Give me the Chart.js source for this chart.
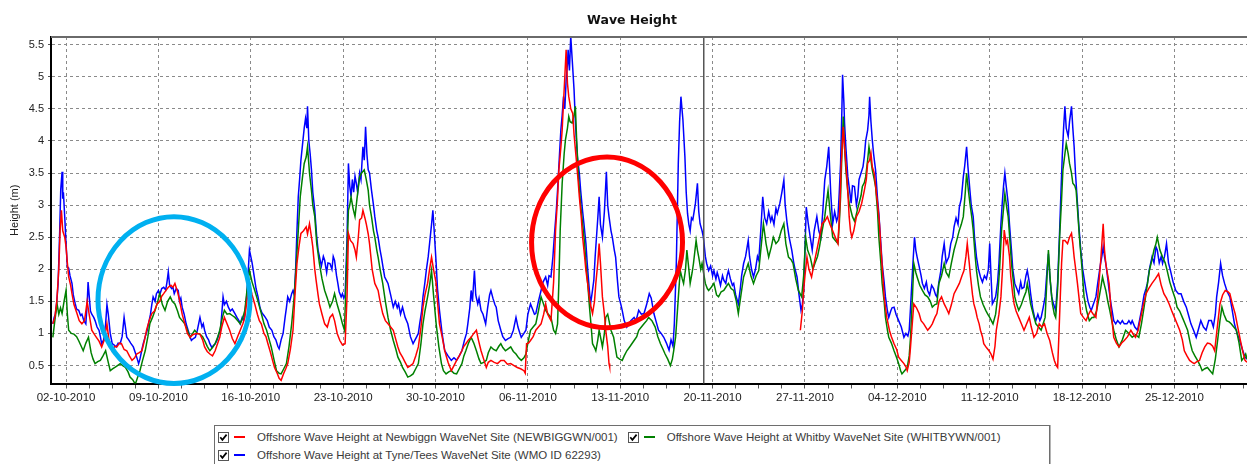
<!DOCTYPE html>
<html>
<head>
<meta charset="utf-8">
<title>Wave Height</title>
<script src="https://cdn.jsdelivr.net/npm/chart.js@4.4.1/dist/chart.umd.min.js"></script>
<style>
  html, body { margin: 0; padding: 0; background: #fff; }
  #wrap { position: relative; width: 1247px; height: 464px; overflow: hidden; }
  #plot { position: absolute; left: 0; top: 0; width: 1247px; height: 420px; }
  #legend {
    position: absolute; left: 214px; top: 425px; width: 834px; height: 50px;
    border: 1px solid #6e6e6e; box-shadow: 1px 0 0 #b4b4b4; background: #fff;
    font: 11.5px "Liberation Sans", Arial, sans-serif; color: #3a3a3a;
  }
  .row { position: absolute; left: 3px; height: 14px; display: flex; align-items: center; white-space: nowrap; }
  .item { display: flex; align-items: center; margin-right: 10px; }
  .item svg { flex: none; margin-right: 5px; }
  .swatch { flex: none; width: 11px; height: 2px; margin-right: 12px; }
</style>
</head>
<body>
<div id="wrap">
  <div id="plot"><canvas id="waves"></canvas></div>
  <div id="legend"></div>
</div>
<script>
// days are counted from 02-10-2010 00:00, heights in metres
var chartTitle = 'Wave Height';
var axisTitle = 'Height (m)';

var seriesNames = [
  'Offshore Wave Height at Newbiggn WaveNet Site (NEWBIGGWN/001)',
  'Offshore Wave Height at Whitby WaveNet Site (WHITBYWN/001)',
  'Offshore Wave Height at Tyne/Tees WaveNet Site (WMO ID 62293)'
];
var seriesColors = ['#ff0000', '#008000', '#0000ff'];

var weekStarts = [0, 7, 14, 21, 28, 35, 42, 49, 56, 63, 70, 77, 84];
var weekLabels = ['02-10-2010', '09-10-2010', '16-10-2010', '23-10-2010', '30-10-2010', '06-11-2010',
  '13-11-2010', '20-11-2010', '27-11-2010', '04-12-2010', '11-12-2010', '18-12-2010', '25-12-2010'];
var heightTicks = [0.5, 1, 1.5, 2, 2.5, 3, 3.5, 4, 4.5, 5, 5.5];

var newbiggin = [[-1.0,1.15],[-0.85,1.25],[-0.7,1.5],[-0.55,2.0],[-0.45,2.6],[-0.35,2.92],[-0.25,2.6],[-0.1,2.5],[0,2.35],[0.1,2.1],[0.2,1.88],[0.35,1.75],[0.45,1.62],[0.6,1.45],[0.83,1.31],[1.0,1.2],[1.2,1.15],[1.4,1.2],[1.6,1.5],[1.75,1.3],[1.95,1.05],[2.1,1.0],[2.3,0.94],[2.5,0.88],[2.7,0.79],[2.9,0.9],[3.1,1.15],[3.25,0.9],[3.5,0.73],[3.7,0.8],[3.85,0.79],[4.05,0.85],[4.2,0.84],[4.4,0.75],[4.6,0.73],[4.8,0.65],[5.0,0.58],[5.2,0.62],[5.35,0.68],[5.55,0.7],[5.75,0.73],[5.95,0.9],[6.1,1.05],[6.3,1.2],[6.5,1.31],[6.7,1.35],[6.9,1.46],[7.1,1.5],[7.25,1.58],[7.4,1.62],[7.6,1.68],[7.75,1.72],[7.95,1.75],[8.1,1.72],[8.25,1.78],[8.45,1.65],[8.6,1.52],[8.8,1.3],[9.0,1.15],[9.2,1.0],[9.4,0.94],[9.6,0.98],[9.75,0.99],[9.95,1.0],[10.15,0.99],[10.35,0.9],[10.5,0.79],[10.7,0.72],[10.9,0.68],[11.1,0.65],[11.3,0.73],[11.5,0.85],[11.65,0.94],[11.8,1.1],[12.0,1.25],[12.2,1.15],[12.4,1.05],[12.6,0.92],[12.8,0.84],[13.0,0.95],[13.2,1.05],[13.4,1.15],[13.55,1.25],[13.7,1.5],[13.9,1.78],[14.1,1.6],[14.3,1.46],[14.5,1.3],[14.65,1.2],[14.8,1.15],[15.0,1.0],[15.15,0.95],[15.3,0.84],[15.5,0.7],[15.65,0.58],[15.8,0.47],[16.0,0.38],[16.15,0.3],[16.3,0.27],[16.5,0.38],[16.65,0.45],[16.8,0.53],[17.0,0.75],[17.2,1.05],[17.35,1.6],[17.5,2.09],[17.65,2.35],[17.8,2.56],[18.0,2.6],[18.2,2.66],[18.3,2.55],[18.45,2.71],[18.6,2.5],[18.7,2.35],[18.85,2.0],[18.95,1.83],[19.1,1.6],[19.2,1.46],[19.4,1.3],[19.6,1.15],[19.8,1.1],[20.0,1.25],[20.2,1.3],[20.35,1.2],[20.55,1.0],[20.75,0.89],[20.95,0.82],[21.15,0.84],[21.3,1.6],[21.4,2.56],[21.55,2.45],[21.75,2.4],[21.9,2.3],[22.0,2.19],[22.15,2.5],[22.25,2.77],[22.4,2.8],[22.5,2.92],[22.65,2.8],[22.75,2.71],[22.9,2.55],[23.0,2.4],[23.2,2.0],[23.4,1.78],[23.65,1.67],[23.8,1.5],[24.0,1.31],[24.2,1.2],[24.4,1.15],[24.6,1.1],[24.8,1.05],[25.0,0.9],[25.15,0.79],[25.3,0.7],[25.5,0.63],[25.7,0.55],[25.9,0.47],[26.1,0.5],[26.3,0.53],[26.5,0.65],[26.7,0.79],[26.9,1.1],[27.05,1.41],[27.2,1.6],[27.4,1.78],[27.55,2.0],[27.7,2.19],[27.85,2.0],[28.05,1.78],[28.15,1.5],[28.3,1.15],[28.5,0.95],[28.7,0.73],[28.95,0.55],[29.2,0.42],[29.4,0.5],[29.6,0.58],[29.8,0.65],[30.0,0.73],[30.15,0.8],[30.3,0.84],[30.5,0.9],[30.7,0.94],[30.9,1.0],[31.1,1.05],[31.25,0.9],[31.45,0.73],[31.65,0.6],[31.85,0.47],[32.0,0.55],[32.2,0.58],[32.45,0.55],[32.7,0.53],[32.95,0.58],[33.2,0.58],[33.45,0.52],[33.7,0.53],[33.95,0.5],[34.2,0.47],[34.45,0.45],[34.7,0.42],[34.8,0.38],[34.9,0.84],[35.05,0.85],[35.2,0.89],[35.4,0.95],[35.6,1.05],[35.8,1.1],[36.0,1.15],[36.2,1.3],[36.35,1.46],[36.5,1.3],[36.75,1.2],[36.95,1.8],[37.1,2.61],[37.25,3.1],[37.35,3.55],[37.5,3.9],[37.6,4.17],[37.7,4.6],[37.8,5.0],[37.9,5.42],[38.0,4.9],[38.1,4.69],[38.25,4.5],[38.4,4.43],[38.5,4.1],[38.65,3.76],[38.8,3.4],[38.9,3.13],[39.05,2.8],[39.15,2.5],[39.3,2.2],[39.4,1.98],[39.55,1.75],[39.65,1.57],[39.8,1.4],[39.9,1.31],[40.05,1.5],[40.15,1.78],[40.3,2.1],[40.4,2.4],[40.5,2.1],[40.65,1.57],[40.8,1.3],[40.9,1.05],[41.05,0.8],[41.15,0.53],[41.2,0.48],
  [48.0,null],
  [55.65,1.05],[55.8,1.35],[55.9,1.67],[56.0,1.9],[56.15,2.19],[56.3,2.0],[56.5,1.88],[56.7,2.1],[56.9,2.3],[57.1,2.5],[57.3,2.71],[57.5,2.75],[57.7,2.82],[57.9,2.7],[58.1,2.6],[58.3,2.5],[58.5,2.4],[58.65,3.0],[58.75,3.65],[58.9,4.22],[59.0,3.9],[59.1,3.65],[59.25,3.2],[59.35,2.82],[59.45,2.6],[59.55,2.5],[59.7,2.6],[59.9,2.82],[60.1,2.9],[60.3,3.03],[60.5,3.23],[60.65,3.4],[60.75,3.65],[60.9,3.7],[61.0,3.81],[61.1,3.6],[61.25,3.5],[61.4,3.2],[61.5,3.03],[61.65,2.7],[61.75,2.35],[61.9,1.9],[62.0,1.57],[62.2,1.25],[62.4,1.05],[62.55,0.95],[62.75,0.84],[62.95,0.75],[63.1,0.63],[63.3,0.58],[63.5,0.53],[63.65,0.48],[63.75,0.42],[63.9,0.55],[64.0,0.79],[64.15,1.2],[64.25,1.46],[64.45,1.4],[64.65,1.31],[64.8,1.2],[65.0,1.15],[65.15,1.1],[65.3,1.05],[65.5,1.1],[65.65,1.15],[65.85,1.25],[66.0,1.31],[66.16,1.5],[66.35,1.57],[66.55,1.46],[66.7,1.4],[66.9,1.31],[67.1,1.45],[67.3,1.62],[67.5,1.7],[67.7,1.78],[67.9,1.9],[68.05,1.98],[68.2,2.2],[68.3,2.4],[68.45,2.1],[68.55,1.88],[68.7,1.6],[68.8,1.46],[68.95,1.35],[69.05,1.25],[69.2,1.15],[69.3,1.05],[69.45,0.95],[69.55,0.84],[69.75,0.78],[69.95,0.73],[70.1,0.68],[70.25,0.6],[70.4,0.8],[70.5,1.05],[70.7,1.3],[70.85,1.57],[71.0,2.1],[71.1,2.61],[71.25,2.4],[71.35,2.45],[71.5,2.2],[71.6,1.88],[71.75,1.6],[71.85,1.46],[72.0,1.35],[72.2,1.25],[72.4,1.15],[72.6,1.05],[72.8,1.15],[73.0,1.25],[73.15,1.1],[73.35,0.94],[73.55,1.0],[73.75,1.15],[73.95,1.1],[74.15,1.15],[74.35,1.0],[74.55,0.89],[74.75,0.7],[74.9,0.58],[75.05,0.5],[75.15,0.47],[75.25,1.0],[75.35,1.57],[75.45,2.1],[75.55,2.45],[75.7,2.45],[75.9,2.4],[76.05,2.5],[76.2,2.56],[76.3,2.4],[76.4,2.19],[76.55,1.95],[76.65,1.78],[76.8,1.5],[76.9,1.31],[77.1,1.25],[77.3,1.2],[77.5,1.3],[77.65,1.36],[77.85,1.3],[78.05,1.25],[78.2,1.6],[78.4,2.09],[78.5,2.4],[78.6,2.71],[78.7,2.3],[78.8,2.09],[78.95,1.9],[79.05,1.78],[79.2,1.35],[79.4,0.94],[79.6,0.85],[79.8,0.79],[80.0,0.85],[80.2,0.89],[80.45,0.95],[80.7,1.05],[80.9,0.98],[81.05,0.94],[81.25,1.05],[81.45,1.25],[81.65,1.45],[81.85,1.62],[82.05,1.7],[82.3,1.78],[82.55,1.85],[82.8,1.93],[83.0,1.75],[83.2,1.62],[83.4,1.55],[83.6,1.46],[83.8,1.35],[84.0,1.25],[84.2,1.15],[84.4,1.05],[84.6,0.9],[84.75,0.73],[84.95,0.65],[85.15,0.58],[85.35,0.55],[85.5,0.53],[85.7,0.56],[85.9,0.58],[86.1,0.7],[86.3,0.79],[86.5,0.85],[86.7,0.84],[86.9,0.8],[87.05,0.73],[87.25,1.1],[87.45,1.46],[87.65,1.6],[87.85,1.67],[88.05,1.65],[88.2,1.62],[88.4,1.45],[88.6,1.31],[88.8,1.1],[89.0,0.89],[89.2,0.7],[89.35,0.58],[89.5,0.55]];

var whitby = [[-1.0,0.94],[-0.85,1.2],[-0.68,1.46],[-0.55,1.3],[-0.42,1.4],[-0.3,1.31],[-0.15,1.5],[0,1.67],[0.1,1.3],[0.2,1.05],[0.4,1.0],[0.6,0.99],[0.8,0.95],[0.95,0.89],[1.15,0.8],[1.3,0.73],[1.5,0.85],[1.7,0.94],[1.9,0.7],[2.05,0.6],[2.2,0.53],[2.4,0.56],[2.6,0.58],[2.8,0.65],[3.0,0.73],[3.2,0.55],[3.35,0.42],[3.55,0.45],[3.7,0.47],[3.9,0.5],[4.1,0.53],[4.3,0.5],[4.5,0.47],[4.7,0.4],[4.85,0.32],[5.05,0.28],[5.25,0.21],[5.4,0.3],[5.6,0.42],[5.8,0.58],[6.0,0.73],[6.2,0.95],[6.35,1.15],[6.55,1.25],[6.75,1.36],[6.95,1.5],[7.1,1.62],[7.3,1.45],[7.5,1.36],[7.7,1.5],[7.9,1.57],[8.05,1.5],[8.25,1.46],[8.45,1.35],[8.6,1.25],[8.8,1.2],[9.0,1.15],[9.2,1.05],[9.4,0.94],[9.6,1.0],[9.75,1.05],[9.95,1.0],[10.15,0.99],[10.35,0.95],[10.5,0.89],[10.7,0.8],[10.9,0.73],[11.1,0.78],[11.3,0.84],[11.5,0.95],[11.65,1.05],[11.85,1.25],[12.0,1.36],[12.2,1.3],[12.4,1.31],[12.6,1.28],[12.8,1.25],[13.0,1.2],[13.2,1.15],[13.4,1.25],[13.55,1.36],[13.7,1.65],[13.9,1.98],[14.1,1.8],[14.3,1.67],[14.55,1.5],[14.8,1.31],[15.0,1.15],[15.2,1.05],[15.4,0.9],[15.55,0.79],[15.75,0.6],[15.95,0.42],[16.15,0.38],[16.3,0.37],[16.5,0.45],[16.7,0.53],[16.9,0.8],[17.1,1.15],[17.3,1.6],[17.45,2.09],[17.6,2.6],[17.75,3.13],[17.9,3.4],[18.05,3.65],[18.2,3.75],[18.3,3.91],[18.45,3.5],[18.6,3.23],[18.7,3.0],[18.85,2.82],[19.0,2.4],[19.2,2.09],[19.4,1.85],[19.6,1.67],[19.8,1.55],[20.0,1.41],[20.2,1.5],[20.35,1.62],[20.55,1.45],[20.75,1.31],[20.95,1.15],[21.1,1.05],[21.25,2.0],[21.4,2.92],[21.5,3.0],[21.6,3.13],[21.75,2.95],[21.9,2.82],[22.05,3.1],[22.25,3.44],[22.4,3.5],[22.6,3.55],[22.75,3.4],[22.9,3.23],[23.0,3.0],[23.15,2.82],[23.3,2.6],[23.4,2.5],[23.55,2.3],[23.65,2.19],[23.8,2.0],[24.0,1.78],[24.2,1.5],[24.4,1.25],[24.6,1.05],[24.8,0.89],[25.0,0.75],[25.15,0.63],[25.35,0.55],[25.5,0.47],[25.7,0.4],[25.9,0.32],[26.1,0.34],[26.3,0.37],[26.5,0.45],[26.7,0.53],[26.9,0.85],[27.05,1.15],[27.2,1.35],[27.4,1.57],[27.55,1.75],[27.7,1.98],[27.85,1.6],[28.05,1.15],[28.25,0.8],[28.45,0.53],[28.6,0.42],[28.8,0.37],[29.0,0.4],[29.2,0.42],[29.4,0.38],[29.6,0.37],[29.8,0.45],[30.0,0.53],[30.15,0.65],[30.3,0.73],[30.5,0.85],[30.7,0.94],[30.9,0.85],[31.1,0.73],[31.3,0.6],[31.45,0.53],[31.65,0.55],[31.85,0.58],[32.0,0.7],[32.2,0.79],[32.4,0.75],[32.6,0.73],[32.8,0.8],[32.95,0.84],[33.1,0.78],[33.3,0.73],[33.5,0.76],[33.7,0.79],[33.9,0.72],[34.1,0.68],[34.3,0.62],[34.5,0.58],[34.7,0.62],[34.85,0.68],[35.0,0.85],[35.2,1.05],[35.4,1.1],[35.6,1.15],[35.8,1.35],[36.0,1.57],[36.2,1.45],[36.35,1.36],[36.55,1.3],[36.75,1.25],[36.95,1.05],[37.1,1.0],[37.25,1.15],[37.35,1.8],[37.45,2.61],[37.6,3.34],[37.75,3.8],[37.85,4.02],[38.0,4.2],[38.1,4.38],[38.2,4.3],[38.35,4.28],[38.5,4.4],[38.6,4.54],[38.7,4.0],[38.85,3.39],[39.0,3.0],[39.15,2.71],[39.3,2.4],[39.4,2.09],[39.55,1.75],[39.65,1.46],[39.8,1.1],[39.9,0.84],[40.05,0.78],[40.15,0.73],[40.3,0.9],[40.4,1.05],[40.55,0.9],[40.65,0.79],[40.8,1.0],[40.9,1.25],[41.05,1.3],[41.15,1.2],[41.3,1.05],[41.5,0.94],[41.65,0.75],[41.75,0.63],[41.95,0.6],[42.15,0.58],[42.3,0.65],[42.5,0.73],[42.75,0.8],[43.05,0.89],[43.25,0.95],[43.4,1.05],[43.6,1.1],[43.8,1.15],[44.0,1.2],[44.15,1.25],[44.4,1.2],[44.65,1.1],[44.85,0.95],[45.05,0.84],[45.25,0.75],[45.4,0.68],[45.6,0.6],[45.8,0.5],[45.95,0.6],[46.05,0.73],[46.2,0.95],[46.3,1.25],[46.45,1.7],[46.55,1.98],[46.7,1.85],[46.8,1.78],[46.95,2.0],[47.05,2.3],[47.2,2.0],[47.3,1.78],[47.45,1.95],[47.55,2.09],[47.75,2.45],[47.85,2.3],[47.95,2.19],[48.1,2.0],[48.2,2.09],[48.35,1.9],[48.45,1.78],[48.6,1.7],[48.7,1.67],[48.9,1.72],[49.1,1.78],[49.3,1.6],[49.45,1.57],[49.65,1.65],[49.85,1.67],[50.0,1.72],[50.2,1.78],[50.4,1.7],[50.6,1.67],[50.8,1.5],[50.95,1.31],[51.15,1.6],[51.35,1.88],[51.55,2.0],[51.7,2.09],[51.9,1.9],[52.1,1.78],[52.3,1.9],[52.5,1.98],[52.7,2.4],[52.85,2.71],[53.05,2.4],[53.25,2.19],[53.45,2.35],[53.6,2.5],[53.8,2.4],[54.0,2.45],[54.2,2.6],[54.4,2.71],[54.55,2.4],[54.75,2.19],[54.95,2.15],[55.1,2.09],[55.3,1.85],[55.5,1.67],[55.75,1.57],[55.9,1.9],[56.05,2.5],[56.2,2.3],[56.4,2.19],[56.6,2.0],[56.75,2.09],[56.95,2.2],[57.1,2.35],[57.3,2.6],[57.5,2.82],[57.6,3.0],[57.75,3.23],[57.9,2.9],[58.1,2.5],[58.3,2.45],[58.5,2.4],[58.6,2.7],[58.7,3.13],[58.8,3.8],[58.9,4.38],[59.0,3.9],[59.1,3.55],[59.25,3.2],[59.35,3.03],[59.5,2.9],[59.6,2.82],[59.75,2.75],[59.85,2.82],[60.0,2.95],[60.1,3.03],[60.25,3.15],[60.35,3.29],[60.5,3.35],[60.6,3.44],[60.75,3.7],[60.85,3.91],[61.0,3.7],[61.1,3.55],[61.25,3.4],[61.35,3.29],[61.5,2.9],[61.6,2.5],[61.75,2.1],[61.85,1.78],[62.0,1.5],[62.1,1.25],[62.25,1.05],[62.35,0.94],[62.55,0.85],[62.75,0.73],[62.95,0.62],[63.1,0.53],[63.25,0.42],[63.35,0.37],[63.55,0.42],[63.75,0.47],[63.9,0.65],[64.0,0.94],[64.15,1.6],[64.25,2.09],[64.4,1.95],[64.5,1.88],[64.7,1.75],[64.9,1.67],[65.1,1.6],[65.3,1.57],[65.5,1.5],[65.65,1.41],[65.85,1.45],[66.0,1.46],[66.15,1.78],[66.35,1.9],[66.55,2.09],[66.7,1.95],[66.9,1.88],[67.1,2.1],[67.3,2.3],[67.5,2.45],[67.7,2.61],[67.85,2.7],[68.0,2.82],[68.15,3.2],[68.25,3.5],[68.4,3.2],[68.5,3.03],[68.65,2.8],[68.75,2.61],[68.9,2.2],[69.0,1.98],[69.15,1.75],[69.3,1.57],[69.5,1.45],[69.7,1.36],[69.85,1.3],[70.0,1.25],[70.25,1.15],[70.45,1.3],[70.6,1.57],[70.75,2.0],[70.9,2.61],[71.05,2.95],[71.15,3.18],[71.3,2.95],[71.4,2.82],[71.55,2.4],[71.65,2.09],[71.8,1.8],[71.9,1.57],[72.05,1.45],[72.2,1.36],[72.4,1.45],[72.6,1.57],[72.75,1.65],[72.85,1.78],[73.0,1.6],[73.1,1.46],[73.3,1.3],[73.5,1.15],[73.7,1.1],[73.9,1.05],[74.05,1.15],[74.2,1.25],[74.35,1.9],[74.45,2.3],[74.6,1.8],[74.75,1.46],[74.9,1.3],[75.0,1.25],[75.15,1.7],[75.3,2.5],[75.45,3.1],[75.55,3.55],[75.7,3.8],[75.8,3.96],[75.95,3.8],[76.05,3.65],[76.2,3.5],[76.3,3.34],[76.45,3.3],[76.55,3.23],[76.7,2.8],[76.8,2.5],[77.0,2.0],[77.15,1.57],[77.35,1.35],[77.55,1.2],[77.75,1.25],[77.9,1.25],[78.1,1.35],[78.3,1.57],[78.45,1.75],[78.55,1.88],[78.7,1.75],[78.8,1.67],[78.95,1.5],[79.1,1.36],[79.25,1.2],[79.4,1.05],[79.6,0.9],[79.8,0.79],[80.05,0.9],[80.3,1.05],[80.55,1.0],[80.8,0.94],[81.05,0.98],[81.3,0.94],[81.5,1.15],[81.7,1.41],[81.9,1.7],[82.1,1.98],[82.3,2.15],[82.45,2.3],[82.6,2.4],[82.7,2.5],[82.9,2.3],[83.1,2.19],[83.3,2.1],[83.45,1.98],[83.65,1.8],[83.85,1.67],[84.05,1.55],[84.2,1.41],[84.4,1.35],[84.6,1.25],[84.8,1.15],[85.0,1.05],[85.2,0.85],[85.35,0.73],[85.55,0.65],[85.75,0.58],[85.95,0.5],[86.1,0.42],[86.3,0.45],[86.5,0.47],[86.7,0.42],[86.9,0.37],[87.1,0.6],[87.3,0.94],[87.45,1.2],[87.6,1.41],[87.75,1.3],[87.95,1.2],[88.15,1.18],[88.3,1.15],[88.5,1.1],[88.7,1.05],[88.9,0.85],[89.1,0.58],[89.25,0.62],[89.4,0.68],[89.5,0.6]];

var tyneTees = [[-1.0,1.15],[-0.9,1.25],[-0.81,1.3],[-0.7,1.5],[-0.6,1.78],[-0.48,2.6],[-0.4,3.25],[-0.3,3.52],[-0.25,3.1],[-0.2,3.2],[-0.1,2.82],[0,2.4],[0.1,2.04],[0.2,2.02],[0.3,1.9],[0.45,1.78],[0.55,1.6],[0.7,1.46],[0.8,1.38],[0.96,1.36],[1.1,1.28],[1.2,1.3],[1.35,1.2],[1.5,1.15],[1.6,1.45],[1.67,1.8],[1.75,1.6],[1.85,1.35],[1.95,1.3],[2.1,1.25],[2.2,1.2],[2.35,1.1],[2.5,1.05],[2.6,0.95],[2.7,0.84],[2.85,0.9],[3.0,1.15],[3.1,1.45],[3.2,1.3],[3.35,1.0],[3.5,0.84],[3.65,0.82],[3.8,0.79],[3.95,0.85],[4.1,0.84],[4.25,0.95],[4.4,1.25],[4.5,1.1],[4.6,0.94],[4.75,0.9],[4.9,0.85],[5.1,0.79],[5.25,0.7],[5.4,0.6],[5.5,0.53],[5.6,0.6],[5.75,0.75],[5.85,0.84],[6.0,0.95],[6.15,1.05],[6.25,1.15],[6.4,1.3],[6.5,1.45],[6.6,1.57],[6.75,1.5],[6.85,1.62],[7.0,1.67],[7.1,1.6],[7.25,1.7],[7.4,1.72],[7.55,1.68],[7.65,1.8],[7.75,1.96],[7.85,1.75],[8.0,1.7],[8.1,1.72],[8.2,1.62],[8.35,1.7],[8.5,1.67],[8.6,1.5],[8.7,1.55],[8.8,1.41],[8.95,1.3],[9.1,1.15],[9.25,1.05],[9.4,0.95],[9.5,0.89],[9.65,0.92],[9.8,0.94],[9.95,1.05],[10.15,1.25],[10.3,1.1],[10.4,1.15],[10.5,1.05],[10.65,0.95],[10.8,0.9],[10.9,0.84],[11.05,0.78],[11.2,0.82],[11.3,0.84],[11.45,0.9],[11.6,1.0],[11.7,1.05],[11.8,1.3],[11.9,1.57],[12.0,1.45],[12.15,1.5],[12.3,1.41],[12.45,1.35],[12.6,1.38],[12.8,1.31],[12.95,1.25],[13.1,1.2],[13.2,1.15],[13.35,1.25],[13.45,1.2],[13.55,1.31],[13.7,1.6],[13.8,1.95],[13.9,2.3],[14.0,2.2],[14.1,2.1],[14.25,1.9],[14.4,1.7],[14.55,1.57],[14.7,1.4],[14.85,1.32],[15.0,1.28],[15.1,1.25],[15.25,1.2],[15.4,1.1],[15.6,1.05],[15.75,0.95],[15.9,0.9],[16.05,0.8],[16.15,0.76],[16.3,0.9],[16.45,1.0],[16.6,1.25],[16.7,1.4],[16.8,1.57],[16.95,1.5],[17.1,1.62],[17.2,1.67],[17.3,1.6],[17.4,2.0],[17.5,2.6],[17.6,3.13],[17.7,3.4],[17.8,3.7],[17.95,4.0],[18.05,4.2],[18.15,4.35],[18.25,4.2],[18.3,4.54],[18.4,4.0],[18.5,3.8],[18.6,3.55],[18.7,3.2],[18.85,2.92],[19.0,2.5],[19.1,2.3],[19.2,2.2],[19.35,2.05],[19.5,2.2],[19.6,2.14],[19.75,1.95],[19.85,2.1],[20.0,2.09],[20.15,2.0],[20.25,2.2],[20.35,2.14],[20.5,1.9],[20.6,1.78],[20.7,1.65],[20.85,1.57],[20.95,1.62],[21.05,1.55],[21.15,1.6],[21.3,2.5],[21.4,3.65],[21.5,3.3],[21.6,3.13],[21.7,3.4],[21.8,3.2],[21.9,3.45],[22.0,3.34],[22.1,3.2],[22.25,3.5],[22.35,3.4],[22.5,3.91],[22.6,3.7],[22.7,4.22],[22.8,3.8],[22.9,3.55],[23.0,3.5],[23.15,3.23],[23.3,3.0],[23.4,2.82],[23.55,2.6],[23.65,2.5],[23.8,2.3],[23.9,2.19],[24.05,2.0],[24.15,1.88],[24.3,1.82],[24.4,1.78],[24.6,1.6],[24.8,1.41],[24.95,1.5],[25.1,1.4],[25.2,1.46],[25.35,1.3],[25.5,1.41],[25.7,1.25],[25.9,1.15],[26.1,0.95],[26.3,0.84],[26.45,0.9],[26.55,0.94],[26.7,1.0],[26.8,1.15],[26.95,1.35],[27.05,1.57],[27.2,1.8],[27.3,1.98],[27.45,2.2],[27.55,2.4],[27.7,2.7],[27.8,2.92],[27.9,2.6],[28.05,2.09],[28.15,1.7],[28.3,1.36],[28.5,1.0],[28.7,0.73],[28.95,0.65],[29.2,0.58],[29.4,0.62],[29.6,0.58],[29.8,0.65],[30.0,0.73],[30.2,0.9],[30.35,1.0],[30.45,1.15],[30.6,1.4],[30.7,1.67],[30.8,1.5],[30.95,1.98],[31.05,1.6],[31.2,1.46],[31.3,1.55],[31.45,1.36],[31.6,1.3],[31.8,1.15],[31.95,1.4],[32.1,1.6],[32.2,1.67],[32.35,1.55],[32.5,1.45],[32.6,1.41],[32.75,1.2],[32.95,1.05],[33.1,0.95],[33.3,0.89],[33.5,0.92],[33.7,0.94],[33.9,1.05],[34.1,1.25],[34.25,1.1],[34.4,1.0],[34.5,0.94],[34.7,1.0],[34.85,1.05],[35.0,1.3],[35.2,1.46],[35.35,1.38],[35.5,1.3],[35.6,1.31],[35.8,1.5],[36.0,1.67],[36.15,1.8],[36.35,1.88],[36.5,1.75],[36.6,1.9],[36.75,1.88],[36.9,2.2],[37.0,2.5],[37.15,2.9],[37.25,3.23],[37.4,3.8],[37.5,4.17],[37.6,4.4],[37.7,4.69],[37.8,4.5],[37.9,4.95],[38.0,5.2],[38.05,5.42],[38.15,5.1],[38.25,5.63],[38.35,5.3],[38.5,4.8],[38.6,4.3],[38.75,3.76],[38.9,3.5],[39.0,3.23],[39.15,2.9],[39.25,2.71],[39.4,2.4],[39.5,2.09],[39.65,1.7],[39.75,1.46],[39.85,1.6],[40.0,1.83],[40.1,2.2],[40.2,2.5],[40.3,2.8],[40.4,3.13],[40.5,2.7],[40.65,2.5],[40.8,2.9],[40.95,3.52],[41.05,3.0],[41.15,2.82],[41.3,2.6],[41.4,2.5],[41.55,2.3],[41.65,2.19],[41.8,1.8],[41.9,1.57],[42.05,1.45],[42.15,1.36],[42.3,1.2],[42.5,1.1],[42.65,1.15],[42.8,1.2],[43.05,1.25],[43.2,1.2],[43.4,1.36],[43.6,1.3],[43.8,1.31],[44.0,1.45],[44.2,1.62],[44.35,1.55],[44.55,1.31],[44.7,1.2],[44.9,1.05],[45.1,1.0],[45.3,0.94],[45.5,0.85],[45.7,0.74],[45.85,0.9],[46.0,0.8],[46.1,1.15],[46.25,2.09],[46.4,3.65],[46.5,4.3],[46.6,4.69],[46.75,4.33],[46.9,3.76],[47.0,3.2],[47.1,2.87],[47.2,2.7],[47.3,2.6],[47.4,2.8],[47.5,2.77],[47.6,2.9],[47.7,3.03],[47.85,3.34],[47.95,2.9],[48.05,2.71],[48.2,2.6],[48.3,2.5],[48.45,2.2],[48.55,2.09],[48.7,1.98],[48.85,2.05],[49.0,1.9],[49.1,1.98],[49.25,1.85],[49.35,1.95],[49.45,1.88],[49.6,1.75],[49.75,1.9],[49.85,1.83],[50.0,1.78],[50.1,1.9],[50.2,1.98],[50.35,1.85],[50.5,1.75],[50.6,1.78],[50.75,1.6],[50.95,1.46],[51.1,1.7],[51.2,1.9],[51.35,2.09],[51.5,2.2],[51.7,2.45],[51.8,2.2],[51.95,2.0],[52.1,1.88],[52.25,2.0],[52.4,2.2],[52.5,2.14],[52.65,2.6],[52.8,3.13],[52.95,2.8],[53.1,2.71],[53.25,2.9],[53.4,2.75],[53.5,2.82],[53.65,2.7],[53.8,2.95],[53.9,2.87],[54.0,2.95],[54.1,3.03],[54.25,3.2],[54.4,3.39],[54.5,3.0],[54.65,2.71],[54.8,2.5],[55.0,2.3],[55.15,2.1],[55.25,2.0],[55.4,1.88],[55.55,1.6],[55.7,1.36],[55.8,1.45],[55.9,1.67],[56.0,2.3],[56.1,2.97],[56.25,2.71],[56.4,2.5],[56.55,2.3],[56.7,2.6],[56.9,2.82],[57.05,2.6],[57.2,2.5],[57.35,2.9],[57.5,3.39],[57.65,3.6],[57.8,3.91],[57.95,3.2],[58.1,2.71],[58.25,2.9],[58.4,2.75],[58.5,2.82],[58.6,3.2],[58.7,3.65],[58.8,4.5],[58.85,5.03],[58.95,4.6],[59.0,4.28],[59.1,3.9],[59.25,3.44],[59.4,3.2],[59.5,3.03],[59.6,3.3],[59.75,3.29],[59.9,3.0],[60.0,3.13],[60.1,3.4],[60.25,3.5],[60.4,3.6],[60.5,3.76],[60.6,4.0],[60.75,4.17],[60.85,4.4],[60.9,4.69],[61.0,4.3],[61.1,4.02],[61.2,3.8],[61.35,3.55],[61.5,3.1],[61.6,2.87],[61.75,2.4],[61.85,2.09],[62.0,1.8],[62.1,1.57],[62.25,1.35],[62.35,1.25],[62.5,1.35],[62.6,1.4],[62.75,1.41],[62.9,1.3],[63.1,1.2],[63.3,1.1],[63.5,0.94],[63.65,1.0],[63.8,0.96],[63.9,1.05],[64.0,1.4],[64.15,1.98],[64.3,2.5],[64.4,2.3],[64.5,2.19],[64.65,2.05],[64.8,1.9],[64.9,1.78],[65.05,1.7],[65.2,1.8],[65.3,1.67],[65.45,1.6],[65.6,1.75],[65.75,1.7],[65.9,1.6],[66.0,1.57],[66.15,1.8],[66.3,1.98],[66.4,2.2],[66.55,2.4],[66.7,2.1],[66.9,2.19],[67.05,2.4],[67.2,2.5],[67.3,2.66],[67.45,2.8],[67.6,2.7],[67.7,2.97],[67.85,3.1],[68.0,3.44],[68.1,3.6],[68.25,3.91],[68.35,3.6],[68.5,3.23],[68.6,3.0],[68.75,2.82],[68.85,2.5],[69.0,2.19],[69.15,2.0],[69.3,1.88],[69.45,1.8],[69.6,1.9],[69.75,1.85],[69.9,2.0],[70.0,2.4],[70.1,1.9],[70.2,1.46],[70.3,1.5],[70.45,1.57],[70.6,1.8],[70.7,2.09],[70.85,2.7],[70.95,3.03],[71.05,3.3],[71.15,3.5],[71.25,3.3],[71.4,3.03],[71.5,2.7],[71.65,2.3],[71.75,2.0],[71.9,1.78],[72.05,1.7],[72.2,1.62],[72.35,1.8],[72.45,1.7],[72.6,1.72],[72.75,1.9],[72.85,1.98],[73.0,1.8],[73.1,1.62],[73.25,1.4],[73.4,1.25],[73.5,1.2],[73.65,1.3],[73.8,1.2],[73.9,1.25],[74.05,1.4],[74.2,1.57],[74.35,2.0],[74.45,2.24],[74.55,1.9],[74.7,1.57],[74.85,1.45],[75.0,1.36],[75.15,1.8],[75.3,2.6],[75.4,3.2],[75.5,3.76],[75.6,4.2],[75.7,4.54],[75.8,4.2],[75.95,4.07],[76.05,4.3],[76.2,4.54],[76.3,4.2],[76.4,3.91],[76.5,3.5],[76.65,3.03],[76.75,2.7],[76.9,2.3],[77.05,2.0],[77.2,1.8],[77.3,1.67],[77.45,1.5],[77.6,1.4],[77.7,1.36],[77.85,1.45],[78.05,1.57],[78.2,1.8],[78.4,2.09],[78.5,2.2],[78.6,2.35],[78.7,2.2],[78.8,2.09],[78.95,1.85],[79.05,1.67],[79.2,1.45],[79.4,1.2],[79.55,1.15],[79.7,1.2],[79.9,1.15],[80.05,1.2],[80.2,1.15],[80.4,1.15],[80.55,1.2],[80.7,1.15],[80.8,1.2],[81.0,1.1],[81.2,1.05],[81.35,1.2],[81.55,1.41],[81.7,1.6],[81.85,1.7],[81.95,1.78],[82.1,2.0],[82.3,2.19],[82.45,2.1],[82.6,2.35],[82.7,2.3],[82.85,2.1],[83.0,2.2],[83.1,2.09],[83.25,2.2],[83.4,2.4],[83.55,2.1],[83.7,1.98],[83.9,1.8],[84.1,1.67],[84.3,1.62],[84.5,1.62],[84.7,1.5],[84.9,1.41],[85.05,1.3],[85.25,1.15],[85.45,1.05],[85.65,0.94],[85.8,1.05],[86.0,1.2],[86.2,1.1],[86.4,1.05],[86.6,1.2],[86.8,1.2],[86.95,1.1],[87.1,1.3],[87.2,1.57],[87.35,1.8],[87.5,2.09],[87.65,1.9],[87.8,1.78],[88.0,1.65],[88.2,1.57],[88.35,1.4],[88.55,1.15],[88.75,1.0],[88.95,0.89],[89.15,0.75],[89.35,0.63],[89.5,0.6]];

// vertical marker line and the two hand-drawn rings
var markerDay = 48.33;
var rings = [
  { day: 8.18, height: 1.52, halfDays: 5.76, halfMetres: 1.30, color: '#00b0f0' },
  { day: 41.0, height: 2.42, halfDays: 5.72, halfMetres: 1.33, color: '#ff0000' }
];

function toPoints(pairs) {
  return pairs.map(function (p) { return { x: p[0], y: p[1] }; });
}

var extras = {
  id: 'extras',
  afterDatasetsDraw: function (chart) {
    var ctx = chart.ctx, a = chart.chartArea, x = chart.scales.x;
    var mx = x.getPixelForValue(markerDay);
    ctx.save();
    ctx.strokeStyle = '#555';
    ctx.lineWidth = 1.5;
    ctx.beginPath();
    ctx.moveTo(mx, a.top);
    ctx.lineTo(mx, a.bottom);
    ctx.stroke();
    ctx.restore();
  },
  afterDraw: function (chart) {
    var ctx = chart.ctx, a = chart.chartArea, x = chart.scales.x, y = chart.scales.y;
    ctx.save();
    // top frame line
    ctx.strokeStyle = '#6a6a6a';
    ctx.lineWidth = 2;
    ctx.beginPath();
    ctx.moveTo(a.left, a.top);
    ctx.lineTo(a.right, a.top);
    ctx.stroke();
    // rings
    rings.forEach(function (r) {
      var cx = x.getPixelForValue(r.day), cy = y.getPixelForValue(r.height);
      var rx = Math.abs(x.getPixelForValue(r.day + r.halfDays) - cx);
      var ry = Math.abs(y.getPixelForValue(r.height + r.halfMetres) - cy);
      ctx.beginPath();
      ctx.ellipse(cx, cy, rx, ry, 0, 0, Math.PI * 2);
      ctx.lineWidth = 5;
      ctx.strokeStyle = r.color;
      ctx.stroke();
    });
    // title
    ctx.fillStyle = '#111';
    ctx.font = 'bold 12.5px "DejaVu Sans"';
    ctx.textAlign = 'center';
    ctx.textBaseline = 'middle';
    ctx.fillText(chartTitle, 632, 21);
    ctx.restore();
  }
};

var ctx = document.getElementById('waves').getContext('2d');
var series = [newbiggin, whitby, tyneTees];

var waveChart = new Chart(ctx, {
  type: 'line',
  data: {
    datasets: series.map(function (s, i) {
      return {
        label: seriesNames[i],
        data: toPoints(s),
        borderColor: seriesColors[i],
        borderWidth: 1.5,
        pointRadius: 0,
        tension: 0,
        fill: false,
        spanGaps: false
      };
    })
  },
  options: {
    animation: false,
    responsive: true,
    maintainAspectRatio: false,
    parsing: false,
    layout: { padding: { top: 37, left: 0, right: 0, bottom: 0 } },
    plugins: {
      legend: { display: false },
      title: { display: false },
      tooltip: { enabled: false }
    },
    scales: {
      x: {
        type: 'linear',
        min: -1.14,
        max: 89.5,
        afterBuildTicks: function (axis) {
          var t = [];
          weekStarts.forEach(function (w) {
            for (var k = 0; k < 4; k++) {
              if (w + k * 1.75 <= 89.5) t.push({ value: w + k * 1.75 });
            }
          });
          axis.ticks = t;
        },
        afterFit: function (axis) { axis.height = 36.5; },
        ticks: {
          autoSkip: false,
          maxRotation: 0,
          padding: 2,
          color: '#222',
          font: { family: '"Liberation Sans", Arial', size: 11.5 },
          callback: function (v) {
            var i = weekStarts.indexOf(v);
            return i >= 0 ? weekLabels[i] : '';
          }
        },
        grid: {
          color: function (c) {
            return c.tick && weekStarts.indexOf(c.tick.value) >= 0 ? '#8a8a8a' : 'rgba(0,0,0,0)';
          },
          lineWidth: 1,
          tickColor: '#555',
          tickLength: 5
        },
        border: { color: '#000', width: 2, dash: [3, 3] }
      },
      y: {
        min: 0.22,
        max: 5.62,
        afterBuildTicks: function (axis) {
          axis.ticks = heightTicks.map(function (v) { return { value: v }; });
        },
        afterFit: function (axis) { axis.width = 51; },
        ticks: {
          padding: 4,
          color: '#222',
          font: { family: '"Liberation Sans", Arial', size: 11 },
          callback: function (v) { return String(v); }
        },
        title: {
          display: true,
          text: axisTitle,
          color: '#222',
          padding: { top: 8, bottom: 0 },
          font: { family: '"Liberation Sans", Arial', size: 11 }
        },
        grid: { color: '#8a8a8a', lineWidth: 1, tickColor: '#555', tickLength: 3 },
        border: { color: '#000', width: 2, dash: [3, 3] }
      }
    }
  },
  plugins: [extras]
});

// legend with tick boxes, two rows like the original
var legend = document.getElementById('legend');
var rows = [[0, 1], [2]];
var rowTops = [4, 22];
var checkSvg = '<svg width="11" height="11" viewBox="0 0 11 11">' +
  '<rect x="0.5" y="0.5" width="10" height="10" fill="#fff" stroke="#555"/>' +
  '<path d="M2.3 5.2 L4.4 7.8 L8.6 2.6" stroke="#000" stroke-width="1.7" fill="none"/></svg>';
rows.forEach(function (r, ri) {
  var row = document.createElement('div');
  row.className = 'row';
  row.style.top = rowTops[ri] + 'px';
  r.forEach(function (i) {
    var item = document.createElement('span');
    item.className = 'item';
    item.innerHTML = checkSvg +
      '<span class="swatch" style="background:' + seriesColors[i] + '"></span>' +
      '<span>' + seriesNames[i] + '</span>';
    row.appendChild(item);
  });
  legend.appendChild(row);
});
</script>
</body>
</html>
